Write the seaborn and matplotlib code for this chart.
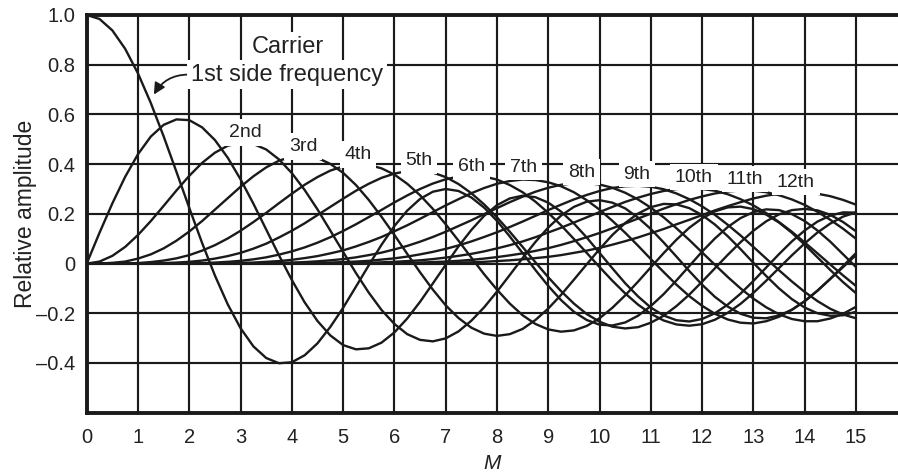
import pandas as pd
import seaborn as sns
import matplotlib.pyplot as plt

# ---------------- data ----------------
M_VALUES = [0.0, 0.25, 0.5, 0.75, 1.0, 1.25, 1.5, 1.75, 2.0, 2.25,
            2.5, 2.75, 3.0, 3.25, 3.5, 3.75, 4.0, 4.25, 4.5, 4.75,
            5.0, 5.25, 5.5, 5.75, 6.0, 6.25, 6.5, 6.75, 7.0, 7.25,
            7.5, 7.75, 8.0, 8.25, 8.5, 8.75, 9.0, 9.25, 9.5, 9.75,
            10.0, 10.25, 10.5, 10.75, 11.0, 11.25, 11.5, 11.75, 12.0, 12.25,
            12.5, 12.75, 13.0, 13.25, 13.5, 13.75, 14.0, 14.25, 14.5, 14.75,
            15.0]

CARRIER = [1.000, 0.984, 0.938, 0.864, 0.765, 0.646, 0.512, 0.369, 0.224, 0.083,
           -0.048, -0.164, -0.260, -0.333, -0.380, -0.401, -0.397, -0.369, -0.321, -0.255,
           -0.178, -0.093, -0.007, 0.076, 0.151, 0.213, 0.260, 0.289, 0.300, 0.292,
           0.266, 0.225, 0.172, 0.109, 0.042, -0.026, -0.090, -0.147, -0.194, -0.227,
           -0.246, -0.249, -0.237, -0.210, -0.171, -0.123, -0.068, -0.010, 0.048, 0.101,
           0.147, 0.183, 0.207, 0.218, 0.215, 0.199, 0.171, 0.133, 0.088, 0.037,
           -0.014]

SIDE_1 = [0.000, 0.124, 0.242, 0.349, 0.440, 0.511, 0.558, 0.580, 0.577, 0.548,
          0.497, 0.426, 0.339, 0.241, 0.137, 0.033, -0.066, -0.156, -0.231, -0.289,
          -0.328, -0.345, -0.341, -0.318, -0.277, -0.221, -0.154, -0.080, -0.005, 0.069,
          0.135, 0.192, 0.235, 0.262, 0.273, 0.267, 0.245, 0.209, 0.161, 0.105,
          0.043, -0.019, -0.079, -0.132, -0.177, -0.209, -0.228, -0.233, -0.223, -0.200,
          -0.165, -0.121, -0.070, -0.016, 0.038, 0.089, 0.133, 0.169, 0.193, 0.206,
          0.205]

SIDE_2 = [0.000, 0.008, 0.031, 0.067, 0.115, 0.171, 0.232, 0.294, 0.353, 0.405,
          0.446, 0.474, 0.486, 0.481, 0.459, 0.419, 0.364, 0.296, 0.218, 0.133,
          0.047, -0.038, -0.117, -0.187, -0.243, -0.284, -0.307, -0.313, -0.301, -0.273,
          -0.230, -0.176, -0.113, -0.046, 0.022, 0.087, 0.145, 0.193, 0.228, 0.249,
          0.255, 0.245, 0.222, 0.185, 0.139, 0.085, 0.028, -0.030, -0.085, -0.134,
          -0.173, -0.202, -0.218, -0.220, -0.209, -0.186, -0.152, -0.109, -0.061, -0.010,
          0.042]

SIDE_3 = [0.000, 0.000, 0.003, 0.008, 0.020, 0.037, 0.061, 0.092, 0.129, 0.171,
          0.217, 0.263, 0.309, 0.351, 0.387, 0.414, 0.430, 0.434, 0.425, 0.401,
          0.365, 0.316, 0.256, 0.188, 0.115, 0.039, -0.035, -0.105, -0.168, -0.219,
          -0.258, -0.282, -0.291, -0.284, -0.263, -0.227, -0.181, -0.126, -0.065, -0.003,
          0.058, 0.115, 0.163, 0.201, 0.227, 0.240, 0.238, 0.223, 0.195, 0.157,
          0.110, 0.058, 0.003, -0.050, -0.100, -0.143, -0.177, -0.200, -0.210, -0.208,
          -0.194]

SIDE_4 = [0.000, 0.000, 0.000, 0.001, 0.002, 0.006, 0.012, 0.021, 0.034, 0.052,
          0.074, 0.101, 0.132, 0.167, 0.204, 0.243, 0.281, 0.317, 0.348, 0.374,
          0.391, 0.399, 0.397, 0.383, 0.358, 0.321, 0.275, 0.220, 0.158, 0.092,
          0.024, -0.043, -0.105, -0.161, -0.208, -0.243, -0.265, -0.274, -0.269, -0.251,
          -0.220, -0.178, -0.128, -0.073, -0.015, 0.042, 0.096, 0.144, 0.182, 0.210,
          0.226, 0.229, 0.219, 0.197, 0.165, 0.124, 0.076, 0.025, -0.026, -0.075,
          -0.119]

SIDE_5 = [0.000, 0.000, 0.000, 0.000, 0.000, 0.001, 0.002, 0.004, 0.007, 0.012,
          0.020, 0.030, 0.043, 0.060, 0.080, 0.105, 0.132, 0.162, 0.195, 0.228,
          0.261, 0.293, 0.321, 0.345, 0.362, 0.372, 0.374, 0.366, 0.348, 0.320,
          0.283, 0.238, 0.186, 0.128, 0.067, 0.005, -0.055, -0.111, -0.161, -0.203,
          -0.234, -0.254, -0.261, -0.256, -0.238, -0.210, -0.171, -0.125, -0.073, -0.019,
          0.035, 0.086, 0.132, 0.170, 0.198, 0.215, 0.220, 0.214, 0.196, 0.167,
          0.130]

SIDE_6 = [0.000, 0.000, 0.000, 0.000, 0.000, 0.000, 0.000, 0.001, 0.001, 0.002,
          0.004, 0.007, 0.011, 0.017, 0.025, 0.036, 0.049, 0.065, 0.084, 0.106,
          0.131, 0.158, 0.187, 0.216, 0.246, 0.274, 0.300, 0.322, 0.339, 0.350,
          0.354, 0.350, 0.338, 0.316, 0.287, 0.249, 0.204, 0.154, 0.099, 0.043,
          -0.014, -0.069, -0.120, -0.165, -0.202, -0.229, -0.245, -0.250, -0.244, -0.226,
          -0.198, -0.162, -0.118, -0.069, -0.018, 0.033, 0.081, 0.125, 0.161, 0.189,
          0.206]

SIDE_7 = [0.000, 0.000, 0.000, 0.000, 0.000, 0.000, 0.000, 0.000, 0.000, 0.000,
          0.001, 0.001, 0.003, 0.004, 0.007, 0.010, 0.015, 0.022, 0.030, 0.041,
          0.053, 0.069, 0.087, 0.107, 0.130, 0.154, 0.180, 0.207, 0.234, 0.259,
          0.283, 0.304, 0.321, 0.332, 0.338, 0.336, 0.327, 0.311, 0.287, 0.255,
          0.217, 0.172, 0.124, 0.072, 0.018, -0.034, -0.085, -0.131, -0.170, -0.202,
          -0.225, -0.238, -0.241, -0.232, -0.214, -0.186, -0.151, -0.109, -0.062, -0.014,
          0.034]

SIDE_8 = [0.000, 0.000, 0.000, 0.000, 0.000, 0.000, 0.000, 0.000, 0.000, 0.000,
          0.000, 0.000, 0.000, 0.001, 0.002, 0.003, 0.004, 0.006, 0.009, 0.013,
          0.018, 0.025, 0.034, 0.044, 0.057, 0.071, 0.088, 0.107, 0.128, 0.151,
          0.174, 0.199, 0.223, 0.247, 0.269, 0.289, 0.305, 0.317, 0.323, 0.324,
          0.318, 0.305, 0.285, 0.258, 0.225, 0.186, 0.142, 0.095, 0.045, -0.005,
          -0.054, -0.100, -0.141, -0.176, -0.204, -0.223, -0.232, -0.232, -0.221, -0.202,
          -0.174]

SIDE_9 = [0.000, 0.000, 0.000, 0.000, 0.000, 0.000, 0.000, 0.000, 0.000, 0.000,
          0.000, 0.000, 0.000, 0.000, 0.000, 0.001, 0.001, 0.002, 0.002, 0.004,
          0.006, 0.008, 0.011, 0.016, 0.021, 0.028, 0.037, 0.047, 0.059, 0.073,
          0.089, 0.107, 0.126, 0.147, 0.169, 0.192, 0.215, 0.237, 0.258, 0.276,
          0.292, 0.304, 0.311, 0.313, 0.309, 0.299, 0.282, 0.259, 0.230, 0.196,
          0.156, 0.113, 0.067, 0.020, -0.027, -0.072, -0.114, -0.151, -0.182, -0.205,
          -0.220]

SIDE_10 = [0.000, 0.000, 0.000, 0.000, 0.000, 0.000, 0.000, 0.000, 0.000, 0.000,
           0.000, 0.000, 0.000, 0.000, 0.000, 0.000, 0.000, 0.000, 0.001, 0.001,
           0.001, 0.002, 0.003, 0.005, 0.007, 0.010, 0.013, 0.018, 0.024, 0.031,
           0.039, 0.049, 0.061, 0.074, 0.089, 0.106, 0.125, 0.144, 0.165, 0.186,
           0.207, 0.228, 0.248, 0.265, 0.280, 0.292, 0.300, 0.303, 0.300, 0.293,
           0.279, 0.259, 0.234, 0.203, 0.167, 0.128, 0.085, 0.041, -0.004, -0.048,
           -0.090]

SIDE_11 = [0.000, 0.000, 0.000, 0.000, 0.000, 0.000, 0.000, 0.000, 0.000, 0.000,
           0.000, 0.000, 0.000, 0.000, 0.000, 0.000, 0.000, 0.000, 0.000, 0.000,
           0.000, 0.001, 0.001, 0.001, 0.002, 0.003, 0.004, 0.006, 0.008, 0.011,
           0.015, 0.020, 0.026, 0.033, 0.041, 0.051, 0.062, 0.075, 0.090, 0.106,
           0.123, 0.142, 0.161, 0.181, 0.201, 0.221, 0.239, 0.256, 0.270, 0.282,
           0.290, 0.294, 0.293, 0.287, 0.275, 0.258, 0.236, 0.208, 0.176, 0.140,
           0.100]

SIDE_12 = [0.000, 0.000, 0.000, 0.000, 0.000, 0.000, 0.000, 0.000, 0.000, 0.000,
           0.000, 0.000, 0.000, 0.000, 0.000, 0.000, 0.000, 0.000, 0.000, 0.000,
           0.000, 0.000, 0.000, 0.000, 0.001, 0.001, 0.001, 0.002, 0.003, 0.004,
           0.005, 0.007, 0.010, 0.013, 0.017, 0.022, 0.027, 0.034, 0.043, 0.052,
           0.063, 0.076, 0.090, 0.105, 0.122, 0.139, 0.158, 0.176, 0.195, 0.214,
           0.231, 0.247, 0.262, 0.273, 0.281, 0.285, 0.285, 0.281, 0.271, 0.256,
           0.237]

ORDER_NAMES = ['Carrier', '1st', '2nd', '3rd', '4th', '5th', '6th', '7th',
               '8th', '9th', '10th', '11th', '12th']
X_TICKS = [0, 1, 2, 3, 4, 5, 6, 7, 8, 9, 10, 11, 12, 13, 14, 15]
Y_TICKS = [-0.6, -0.4, -0.2, 0, 0.2, 0.4, 0.6, 0.8, 1.0]
Y_TICK_LABELS = ['', '\u20130.4', '\u20130.2', '0', '0.2', '0.4', '0.6', '0.8', '1.0']

# label anchor positions (data coordinates)
LABEL_X = [3.087, 4.218, 5.29, 6.48, 7.51, 8.51, 9.655, 10.73, 11.84, 12.83, 13.83]
LABEL_Y = [0.528, 0.472, 0.44, 0.416, 0.392, 0.388, 0.368, 0.36, 0.348, 0.34, 0.328]

# ---------------- build table ----------------
series = [CARRIER, SIDE_1, SIDE_2, SIDE_3, SIDE_4, SIDE_5, SIDE_6, SIDE_7,
          SIDE_8, SIDE_9, SIDE_10, SIDE_11, SIDE_12]
frames = [pd.DataFrame({'M': M_VALUES, 'amp': vals, 'order': name})
          for name, vals in zip(ORDER_NAMES, series)]
df = pd.concat(frames, ignore_index=True)

# ---------------- plot ----------------
sns.set_theme(style="white")
plt.rcParams['font.family'] = ['Liberation Sans', 'DejaVu Sans']

INK = '#1a1a1a'
TXT = '#222222'

fig = plt.figure(figsize=(8.98, 4.74), dpi=100)
ax = fig.add_axes([86.7 / 898, 1 - 412.7 / 474, 1 - 86.7 / 898, (412.7 - 15) / 474])
sns.lineplot(data=df, x='M', y='amp', units='order', estimator=None, color=INK,
             lw=1.7, ax=ax, sort=False, zorder=3)

ax.set_xlim(0, 15.82)
ax.set_ylim(-0.6, 1.0)
ax.set_xticks(X_TICKS)
ax.set_xticklabels([str(t) for t in X_TICKS])
ax.set_yticks(Y_TICKS)
ax.set_yticklabels(Y_TICK_LABELS)
ax.grid(True, color=INK, lw=1.55, zorder=1)
ax.set_axisbelow(True)
ax.tick_params(length=0, labelsize=14.5, colors=TXT)
ax.tick_params(axis='x', pad=11)
ax.tick_params(axis='y', pad=8)
for s in ['left', 'bottom', 'top']:
    ax.spines[s].set_linewidth(2.8)
    ax.spines[s].set_color(INK)
ax.spines['right'].set_visible(False)
ax.set_xlabel('M', fontsize=15, style='italic', labelpad=5, color=TXT)
ax.set_ylabel('Relative amplitude', fontsize=16.5, color=TXT)
ax.yaxis.set_label_coords(-0.061, 0.5)

box = dict(facecolor='white', edgecolor='none', pad=2.5)
ax.text(3.92, 0.872, 'Carrier', fontsize=17, ha='center', va='center',
        bbox=box, zorder=5, color=TXT)
ax.annotate('1st side frequency', xy=(1.31, 0.68), xytext=(3.905, 0.76), fontsize=17,
            ha='center', va='center', bbox=box, zorder=5, color=TXT,
            arrowprops=dict(arrowstyle='-|>', connectionstyle='arc3,rad=0.3', color=INK,
                            lw=1.3, shrinkA=0, shrinkB=0, relpos=(0, 0.5)))
for name, x, y in zip(ORDER_NAMES[2:], LABEL_X, LABEL_Y):
    ax.text(x, y, name, fontsize=14, ha='center', va='center',
            bbox=dict(facecolor='white', edgecolor='none', pad=3.5), zorder=5, color=TXT)

fig.savefig('out.png', dpi=100)
